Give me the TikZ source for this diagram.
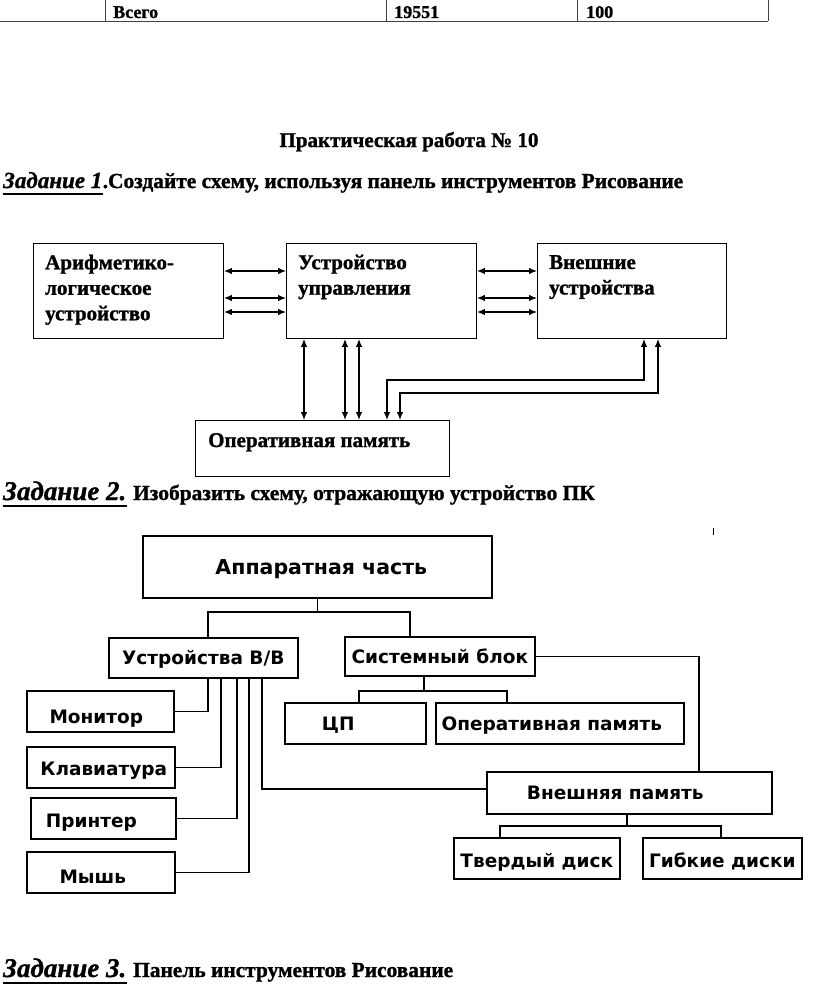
\documentclass[tikz,border=0pt]{standalone}
\usepackage{fontspec}
\setmainfont{Liberation Serif}[BoldFeatures={FakeBold=1.2}, BoldItalicFeatures={FakeBold=1.2}]
\newfontfamily\pcfont{DejaVu Sans}
\usetikzlibrary{arrows.meta}

\tikzset{
  every node/.style={inner sep=0pt},
  cell/.style={line width=0.8pt, black!75},
  blk/.style={draw, line width=0.9pt, anchor=north west},
  txt/.style={align=left, font=\bfseries\fontsize{21}{25.5}\selectfont},
  dbl/.style={line width=1.2pt, {Latex[length=8pt,width=6.5pt]}-{Latex[length=8pt,width=6.5pt]}},
  pcbox/.style={draw, line width=1.6pt, anchor=north west},
  pclbl/.style={font=\pcfont\bfseries\fontsize{18.5}{21}\selectfont, text height=13.5pt, text depth=0pt},
  link/.style={line width=1.6pt},
  head/.style={anchor=base west, font=\bfseries\fontsize{21.4}{25}\selectfont},
  task/.style={anchor=base west, font=\bfseries\itshape\fontsize{23}{27}\selectfont},
}

\begin{document}
\begin{tikzpicture}[x=1pt,y=-1pt]
  \useasboundingbox (0,0) rectangle (816,1006);

  % table row
  \draw[cell] (0,21.5) -- (768,21.5);
  \foreach \cx in {105,386,577,768}
    \draw[cell] (\cx,0) -- (\cx,21.5);
  \node[anchor=base west, font=\bfseries\fontsize{18}{20}\selectfont] (total) at (113,18) {Всего};
  \node[anchor=base west, font=\bfseries\fontsize{18}{20}\selectfont] (sum) at (394,18) {19551};
  \node[anchor=base west, font=\bfseries\fontsize{18}{20}\selectfont] (pct) at (586,18) {100};

  % title and task 1
  \node[anchor=base, font=\bfseries\fontsize{21}{25}\selectfont] (title) at (409,147) {Практическая работа № 10};
  \node[task] (z1) at (3,188) {Задание 1};
  \draw[line width=1.5pt] ([yshift=-6pt]z1.base west) -- ([yshift=-6pt]z1.base east);
  \node[head] (z1t) at (z1.base east) {.Создайте схему, используя панель инструментов Рисование};

  % scheme 1
  \node[blk, minimum width=190pt, minimum height=95pt] (alu) at (33,243) {};
  \node[blk, minimum width=190pt, minimum height=95pt] (uu) at (286,243) {};
  \node[blk, minimum width=189pt, minimum height=95pt] (vu) at (537,243) {};
  \node[blk, minimum width=254pt, minimum height=56pt] (op) at (195,420) {};

  \node[txt, anchor=north west] (alu-t) at (45,254.5) {Арифметико-\\логическое\\устройство};
  \node[txt, anchor=north west] (uu-t) at (298,254.5) {Устройство\\управления};
  \node[txt, anchor=north west] (vu-t) at (549,255) {Внешние\\устройства};
  \node[txt, anchor=base west] (op-t) at (208,447) {Оперативная память};

  \foreach \ay in {271,298,312} {
    \draw[dbl] (alu.east |- 0,\ay) -- (uu.west |- 0,\ay);
    \draw[dbl] (uu.east |- 0,\ay) -- (vu.west |- 0,\ay);
  }
  \foreach \ax in {304,345,359}
    \draw[dbl] (uu.south -| \ax,0) -- (op.north -| \ax,0);
  \draw[dbl] (vu.south -| 644,0) -- (644,380) -- (387,380) -- (op.north -| 387,0);
  \draw[dbl] (vu.south -| 658,0) -- (658,393) -- (400,393) -- (op.north -| 400,0);

  % task 2
  \node[task, font=\bfseries\itshape\fontsize{27}{30}\selectfont] (z2) at (3,500) {Задание 2.};
  \draw[line width=1.6pt] ([yshift=-6pt]z2.base west) -- ([yshift=-6pt]z2.base east);
  \node[head] (z2t) at (133,500) {Изобразить схему, отражающую устройство ПК};
  \draw[line width=1pt] (713,528) -- (713,535);

  % scheme 2
  \node[pcbox, minimum width=349pt, minimum height=62pt] (hw) at (142,535) {};
  \node[pcbox, minimum width=189pt, minimum height=40pt] (io) at (108,637) {};
  \node[pcbox, minimum width=190pt, minimum height=39pt] (sb) at (344,636) {};
  \node[pcbox, minimum width=141pt, minimum height=41pt] (cpu) at (284,702) {};
  \node[pcbox, minimum width=248pt, minimum height=41pt] (ram) at (435,702) {};
  \node[pcbox, minimum width=147pt, minimum height=41pt] (mon) at (26,690) {};
  \node[pcbox, minimum width=148pt, minimum height=41pt] (kbd) at (26,746) {};
  \node[pcbox, minimum width=145pt, minimum height=41pt] (prn) at (30,797) {};
  \node[pcbox, minimum width=148pt, minimum height=41pt] (mouse) at (26,851) {};
  \node[pcbox, minimum width=285pt, minimum height=42pt] (ext) at (486,771) {};
  \node[pcbox, minimum width=166pt, minimum height=41pt] (hdd) at (453,837) {};
  \node[pcbox, minimum width=159pt, minimum height=41pt] (fdd) at (642,837) {};

  \node[pclbl, font=\pcfont\bfseries\fontsize{20.5}{23}\selectfont, text height=14.5pt] (hw-t) at ([xshift=4pt]hw.center) {Аппаратная часть};
  \node[pclbl] (io-t) at (io.center) {Устройства В/В};
  \node[pclbl] (sb-t) at (sb.center) {Системный блок};
  \node[pclbl] (cpu-t) at ([xshift=-17pt]cpu.center) {ЦП};
  \node[pclbl] (ram-t) at ([xshift=-8pt]ram.center) {Оперативная память};
  \node[pclbl] (mon-t) at ([xshift=-4pt,yshift=-5pt]mon.center) {Монитор};
  \node[pclbl] (kbd-t) at ([xshift=3pt,yshift=-1.5pt]kbd.center) {Клавиатура};
  \node[pclbl] (prn-t) at ([xshift=-12pt,yshift=-2.5pt]prn.center) {Принтер};
  \node[pclbl] (mouse-t) at ([xshift=-8pt,yshift=-4.5pt]mouse.center) {Мышь};
  \node[pclbl] (ext-t) at ([xshift=-14pt]ext.center) {Внешняя память};
  \node[pclbl] (hdd-t) at ([yshift=-2.5pt]hdd.center) {Твердый диск};
  \node[pclbl] (fdd-t) at ([yshift=-2pt]fdd.center) {Гибкие диски};

  \draw[link] (hw.south) -- (hw.south |- 0,612);
  \draw[link] (io.north -| 208,0) -- (208,612) -- (410,612) -- (sb.north -| 410,0);
  \draw[link] (sb.east) -| (ext.north -| 699,0);
  \draw[link] (sb.south -| 424,0) -- (424,691);
  \draw[link] (cpu.north -| 359,0) -- (359,691) -- (507,691) -- (ram.north -| 507,0);
  \draw[link] (io.south -| 208,0) |- (mon.east);
  \draw[link] (io.south -| 221,0) |- (kbd.east);
  \draw[link] (io.south -| 237,0) |- (prn.east);
  \draw[link] (io.south -| 249,0) |- (mouse.east);
  \draw[link] (io.south -| 262,0) |- (ext.west |- 0,789);
  \draw[link] (ext.south -| 627,0) -- (627,826);
  \draw[link] (hdd.north -| 500,0) -- (500,826) -- (721,826) -- (fdd.north -| 721,0);

  % task 3
  \node[task, font=\bfseries\itshape\fontsize{27}{30}\selectfont] (z3) at (3,977) {Задание 3.};
  \draw[line width=1.6pt] ([yshift=-6pt]z3.base west) -- ([yshift=-6pt]z3.base east);
  \node[head] (z3t) at (133,977) {Панель инструментов Рисование};
\end{tikzpicture}
\end{document}
